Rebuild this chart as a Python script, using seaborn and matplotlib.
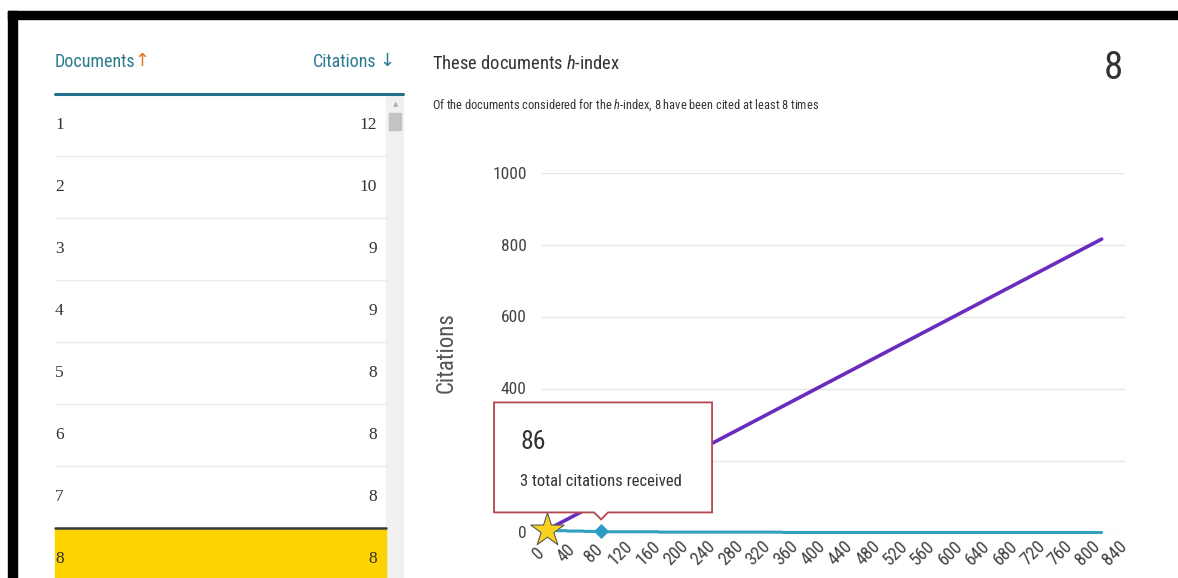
import numpy as np
import pandas as pd
import matplotlib
matplotlib.use("Agg")
import matplotlib.pyplot as plt
import matplotlib.transforms as mtransforms
import seaborn as sns
from matplotlib import font_manager
from matplotlib.patches import Rectangle, Polygon
from matplotlib.lines import Line2D

# rows visible in the left table
doc_rank = [1, 2, 3, 4, 5, 6, 7, 8]
doc_citations = [12, 10, 9, 9, 8, 8, 8, 8]

# sorted citation counts of all documents: level -> how many documents
cite_levels = [12, 10, 9, 8, 7, 6, 5, 4, 3, 2, 1, 0]
docs_at_level = [1, 1, 2, 4, 6, 8, 14, 24, 30, 80, 180, 465]

h_index = 8
hover_doc = 86
hover_cites = 3

xticks = list(range(0, 841, 40))
yticks = [0, 200, 400, 600, 800, 1000]

citations = np.repeat(cite_levels, docs_at_level)
n_docs = len(citations)
df = pd.DataFrame({"doc": np.arange(1, n_docs + 1), "citations": citations})
diag = pd.DataFrame({"doc": [0, n_docs], "citations": [0, n_docs]})

sns.set_theme(style="white")

# pick a narrow sans if one is installed (the original uses a condensed face)
names = {f.name for f in font_manager.fontManager.ttflist}
NARROW = next((f for f in ["Liberation Sans Narrow", "Roboto Condensed", "Open Sans Condensed"] if f in names), None)
if NARROW:
    SANS, k = NARROW, 1.0
else:
    SANS, k = "Lato", 0.8
SERIF = "Liberation Serif"
plt.rcParams["font.family"] = [SANS, "DejaVu Sans"]
plt.rcParams["mathtext.fontset"] = "custom"
plt.rcParams["mathtext.rm"] = SANS
plt.rcParams["mathtext.it"] = SANS + ":italic"

W, H = 1178, 578
fig = plt.figure(figsize=(W / 100, H / 100), dpi=100)
fig.patch.set_facecolor("white")


def fx(x):
    return x / W


def fy(y):
    return 1 - y / H


TEAL = "#2b7b8e"
DARK = "#333333"

# black frame (top and left)
fig.add_artist(Rectangle((fx(8), fy(19)), fx(W) - fx(8), fy(11) - fy(19), color="black", transform=fig.transFigure))
fig.add_artist(Rectangle((fx(8), 0), fx(17) - fx(8), fy(11), color="black", transform=fig.transFigure))

# ---------- left table ----------
fig.text(fx(55), fy(62), "Documents", color=TEAL, fontsize=13 * k, va="center", ha="left")
fig.text(fx(142), fy(61), "\u2191", color="#e8761e", fontsize=13, va="center", ha="center", family=["DejaVu Sans"])
fig.text(fx(376), fy(62), "Citations", color=TEAL, fontsize=13 * k, va="center", ha="right")
fig.text(fx(387), fy(61), "\u2193", color=TEAL, fontsize=13, va="center", ha="center", family=["DejaVu Sans"])

# scrollbar
fig.add_artist(Rectangle((fx(386), 0), fx(403) - fx(386), fy(96), color="#f1f1f1", transform=fig.transFigure))
fig.add_artist(Rectangle((fx(389), fy(130)), fx(401) - fx(389), fy(113) - fy(130), color="#c3c3c3", transform=fig.transFigure))
fig.text(fx(395.5), fy(104), "\u25b2", color="#b0b0b0", fontsize=5, ha="center", va="center", family=["DejaVu Sans"])

fig.add_artist(Line2D([fx(55), fx(403)], [fy(94), fy(94)], color="#22718a", lw=2.2, transform=fig.transFigure))

row_h = 62
row_top = 125
for i, (r, c) in enumerate(zip(doc_rank, doc_citations)):
    yc = row_top + row_h * i
    if r == h_index:
        fig.add_artist(Rectangle((fx(55), fy(yc + 31)), fx(386) - fx(55), fy(yc - 30) - fy(yc + 31),
                                 color="#fdd300", transform=fig.transFigure))
        fig.add_artist(Line2D([fx(55), fx(386)], [fy(yc - 31), fy(yc - 31)], color="#3a3a3a", lw=1.8,
                              transform=fig.transFigure))
    elif i > 0:
        fig.add_artist(Line2D([fx(55), fx(386)], [fy(yc - 31), fy(yc - 31)], color="#ebebeb", lw=1,
                              transform=fig.transFigure))
    fig.text(fx(55), fy(yc), str(r), family=SERIF, fontsize=12.5, color=DARK, ha="left", va="center")
    fig.text(fx(377), fy(yc), str(c), family=SERIF, fontsize=12.5, color=DARK, ha="right", va="center")

# ---------- heading ----------
fig.text(fx(432), fy(64), "These documents $h$-index", fontsize=13.3 * k, color=DARK, ha="left", va="center")
fig.text(fx(432), fy(105), "Of the documents considered for the $h$-index, 8 have been cited at least 8 times",
         fontsize=8.9 * k, color=DARK, ha="left", va="center")
fig.text(fx(1123), fy(69), str(h_index), fontsize=28 * k, color=DARK, ha="right", va="center")
fig.text(fx(446), fy(353), "Citations", fontsize=16.5 * k, color="#555555", rotation=90, ha="center", va="center")

# ---------- chart ----------
ax = fig.add_axes([fx(542), fy(532.5), fx(1125) - fx(542), fy(172.5) - fy(532.5)])
sns.lineplot(data=diag, x="doc", y="citations", color="#6a2cbf", lw=2.6, ax=ax, zorder=3)
sns.lineplot(data=df, x="doc", y="citations", color="#34a0c0", lw=2.2, ax=ax, zorder=4)
ax.set_xlim(0, 849)
ax.set_ylim(0, 1000)
for line in ax.lines:
    line.set_clip_on(False)
ax.scatter([hover_doc], [hover_cites], marker="D", s=45, color="#2a9cc6", zorder=6, clip_on=False)
ax.scatter([h_index], [h_index], marker="*", s=640, color="#f8d21c", edgecolor="#5a5a5a", linewidth=0.8,
           zorder=7, clip_on=False)

ax.set_yticks(yticks)
ax.set_yticklabels([str(v) for v in yticks])
ax.set_xticks(xticks)
ax.set_xticklabels([str(v) for v in xticks], rotation=45, ha="center", va="center", rotation_mode="anchor")
ax.tick_params(axis="y", length=0, pad=11, labelsize=12.5 * k, labelcolor="#444444")
ax.tick_params(axis="x", length=0, pad=15, labelsize=13 * k, labelcolor="#444444")
shift = mtransforms.ScaledTranslation(-0.035, 0, fig.dpi_scale_trans)
for lab in ax.get_xticklabels():
    lab.set_transform(lab.get_transform() + shift)
ax.grid(axis="y", color="#e6e6e6", lw=1)
ax.grid(axis="x", visible=False)
sns.despine(ax=ax, left=True, bottom=True, top=True, right=True)
ax.set_xlabel("")
ax.set_ylabel("")
ax.set_facecolor("none")

# ---------- tooltip for the hovered point ----------
px, py = ax.transData.transform((hover_doc, hover_cites))
shape = [(px - 107, py + 129), (px + 111, py + 129), (px + 111, py + 19), (px + 7, py + 19),
         (px, py + 12), (px - 7, py + 19), (px - 107, py + 19)]
fig.add_artist(Polygon([(x / W, y / H) for x, y in shape], closed=True, facecolor="white",
                       edgecolor="#b2474f", lw=1.3, transform=fig.transFigure, zorder=10))
fig.text((px - 81) / W, (py + 89) / H, str(hover_doc), fontsize=18.5 * k, color=DARK, ha="left", va="center", zorder=11)
fig.text((px - 81) / W, (py + 50) / H, f"{hover_cites} total citations received", fontsize=12 * k, color=DARK,
         ha="left", va="center", zorder=11)

fig.savefig("out.png", dpi=100, facecolor="white")
